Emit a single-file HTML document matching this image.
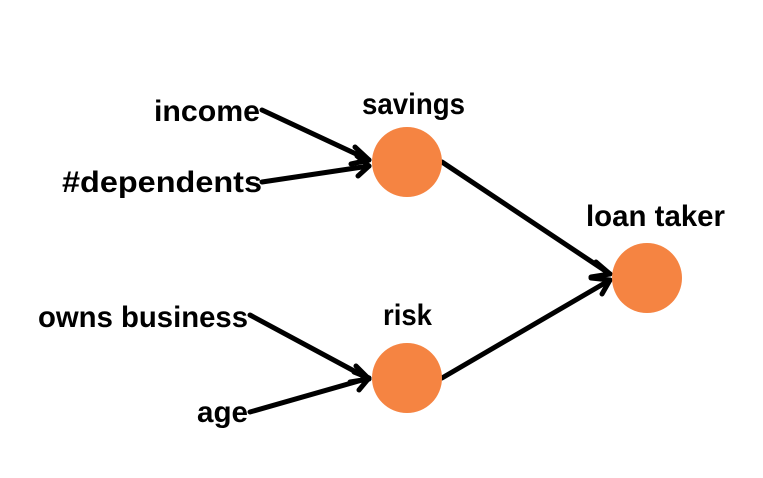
<!DOCTYPE html>
<html><head><meta charset="utf-8"><style>
html,body{margin:0;padding:0;background:#fff;}
svg{display:block;}
text{font-family:"Liberation Sans",sans-serif;font-weight:bold;font-size:30px;fill:#000;}
</style></head><body>
<svg width="763" height="478" viewBox="0 0 763 478">
<g stroke="#000" stroke-width="5" fill="none" stroke-linecap="round" stroke-linejoin="round">
<line x1="262" y1="110" x2="369" y2="160"/>
<polyline points="355,147 369,160 351,164"/>
<line x1="262" y1="182" x2="369" y2="166"/>
<polyline points="357,156 369,166 358,176"/>
<line x1="250" y1="315" x2="369" y2="379"/>
<polyline points="356,366 369,379 350,382"/>
<line x1="250" y1="412" x2="369" y2="378"/>
<polyline points="354,372 369,378 359,390"/>
<line x1="442" y1="162" x2="610" y2="274"/>
<polyline points="596,262 610,274 591,277"/>
<line x1="442" y1="378" x2="610" y2="280"/>
<polyline points="591,278 610,280 602,294"/>
</g>
<g fill="#f58442">
<circle cx="407" cy="162" r="35"/>
<circle cx="407" cy="378" r="35"/>
<circle cx="647" cy="278" r="35"/>
</g>
<text x="154" y="121" textLength="106" lengthAdjust="spacingAndGlyphs">income</text>
<text x="62" y="192" textLength="200" lengthAdjust="spacingAndGlyphs">#dependents</text>
<text x="362" y="114" textLength="103" lengthAdjust="spacingAndGlyphs">savings</text>
<text x="586" y="226" textLength="139" lengthAdjust="spacingAndGlyphs">loan taker</text>
<text x="38" y="327" textLength="210" lengthAdjust="spacingAndGlyphs">owns business</text>
<text x="383" y="325" textLength="49" lengthAdjust="spacingAndGlyphs">risk</text>
<text x="197" y="422" textLength="51" lengthAdjust="spacingAndGlyphs">age</text>
</svg>
</body></html>
